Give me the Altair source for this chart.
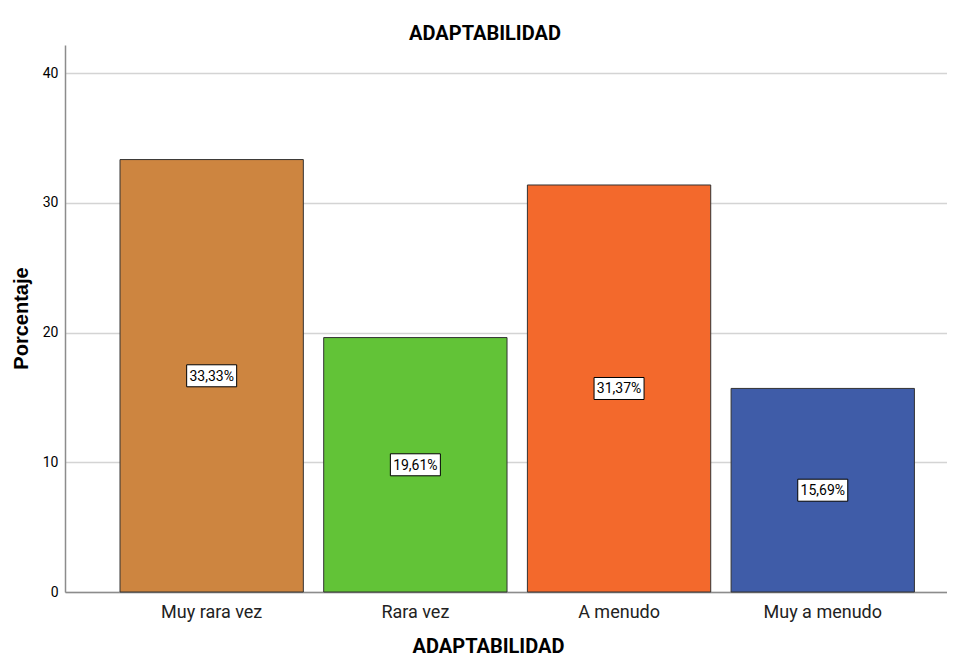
import altair as alt
import pandas as pd

categories = ["Muy rara vez", "Rara vez", "A menudo", "Muy a menudo"]
values = [33.33, 19.61, 31.37, 15.69]
colors = ["#CD8540", "#62C337", "#F3692C", "#3F5CA8"]
y_ticks = [0, 10, 20, 30, 40]

df = pd.DataFrame({"cat": categories, "val": values})
df["mid"] = df["val"] / 2
df["lab"] = [f"{v:.2f}".replace(".", ",") + "%" for v in values]

NARROW = "Roboto, sans-serif"

x_enc = alt.X(
    "cat:N",
    sort=categories,
    scale=alt.Scale(paddingInner=0.1, paddingOuter=0.215, align=0.628),
    axis=alt.Axis(
        title="ADAPTABILIDAD",
        labelAngle=0,
        ticks=False,
        labelFont=NARROW,
        labelFontSize=18,
        labelColor="#222222",
        labelPadding=11,
        titleFont=NARROW,
        titleFontSize=20,
        titleFontWeight="bold",
        titleColor="#000000",
        titleX=423,
        titleY=60,
        titleBaseline="alphabetic",
        domainColor="#8c8c8c",
        domainWidth=1.5,
    ),
)


def y_enc(field):
    return alt.Y(
        f"{field}:Q",
        scale=alt.Scale(domain=[0, 42.16], nice=False, zero=True),
        axis=alt.Axis(
            title="Porcentaje",
            values=y_ticks,
            ticks=False,
            labelFont=NARROW,
            labelFontSize=14,
            labelColor="#000000",
            labelPadding=7,
            grid=True,
            gridColor="#d4d4d4",
            gridWidth=1.5,
            domainColor="#8c8c8c",
            domainWidth=1.5,
            titleFont="Liberation Sans, Arial, sans-serif",
            titleFontSize=20,
            titleFontWeight="bold",
            titleColor="#000000",
            titleAngle=-90,
            titleX=-44,
            titleY=273,
            titleBaseline="middle",
            titleAlign="center",
        ),
    )


bars = alt.Chart(df).mark_bar(stroke="#333333", strokeWidth=1).encode(
    x=x_enc,
    y=y_enc("val"),
    color=alt.Color("cat:N", scale=alt.Scale(domain=categories, range=colors), legend=None),
)

boxes = alt.Chart(df).mark_rect(
    width=50, height=22, fill="white", stroke="#000000", strokeWidth=1
).encode(x=x_enc, y=y_enc("mid"))

texts = alt.Chart(df).mark_text(
    font=NARROW, fontSize=14, color="#000000", baseline="middle", align="center", dy=1
).encode(x=x_enc, y=y_enc("mid"), text="lab:N")

chart = (
    alt.layer(bars, boxes, texts)
    .properties(
        width=882,
        height=547,
        padding={"left": 57, "top": 37, "right": 0, "bottom": 64},
        autosize=alt.AutoSizeParams(type="none"),
        background="white",
        title=alt.TitleParams(
            "ADAPTABILIDAD",
            font=NARROW,
            fontSize=20,
            fontWeight="bold",
            color="#000000",
            dx=-21,
            dy=23,
            offset=8,
            baseline="alphabetic",
        ),
    )
    .configure_view(stroke=None)
)

chart.save("out.html", embed_options={"renderer": "svg", "actions": False})
